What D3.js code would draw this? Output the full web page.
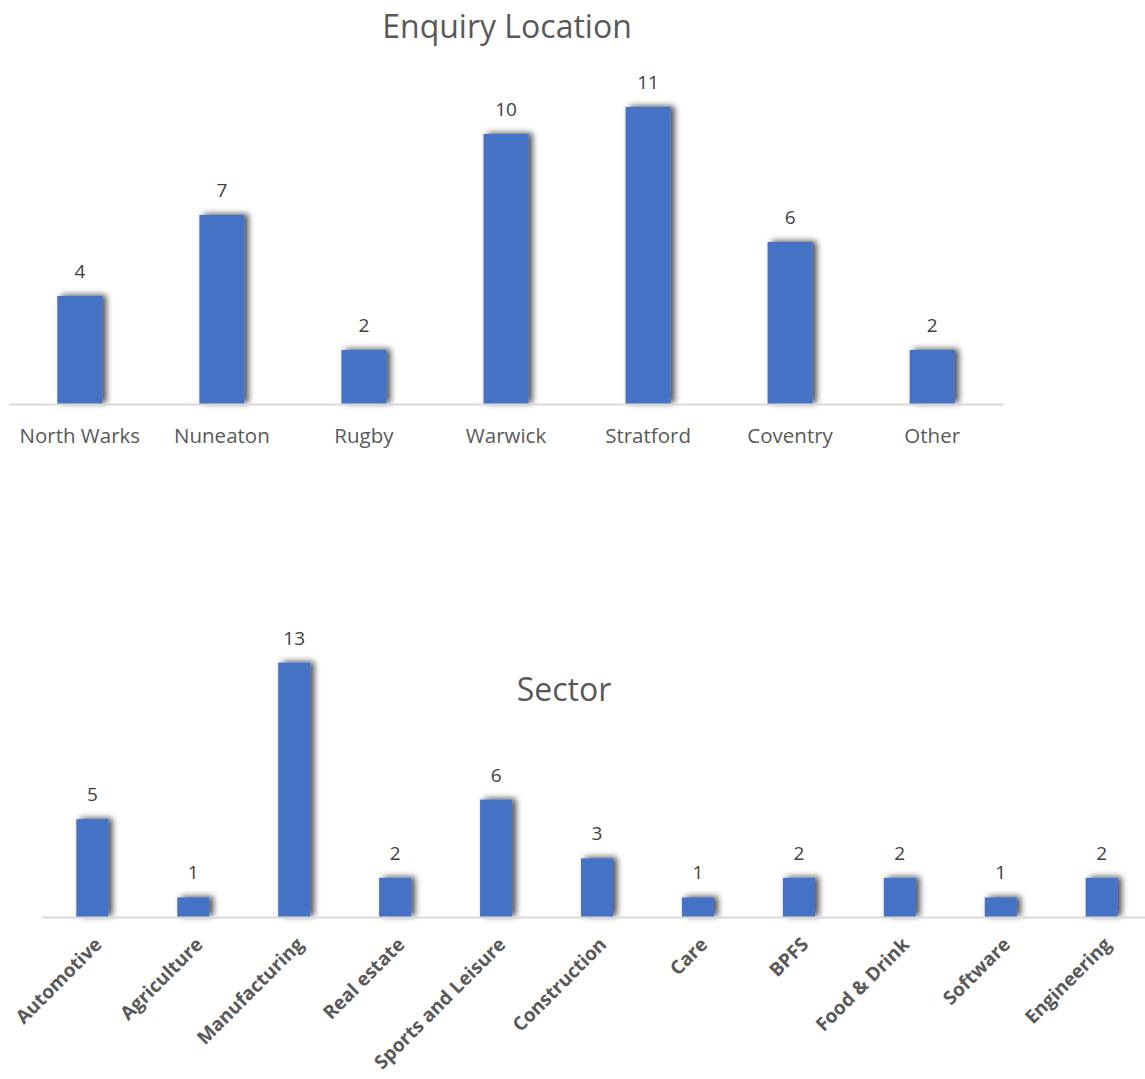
<!DOCTYPE html>
<html><head><meta charset="utf-8">
<script src="https://cdn.jsdelivr.net/npm/d3@7"></script>
<style>body{margin:0;background:#fff;} text{font-family:"Open Sans",sans-serif;}</style>
</head><body>
<svg id="c" width="1145" height="1079"></svg>
<script>
const locations = ["North Warks","Nuneaton","Rugby","Warwick","Stratford","Coventry","Other"];
const locationCounts = [4,7,2,10,11,6,2];
const sectors = ["Automotive","Agriculture","Manufacturing","Real estate","Sports and Leisure","Construction","Care","BPFS","Food & Drink","Software","Engineering"];
const sectorCounts = [5,1,13,2,6,3,1,2,2,1,2];

const svg = d3.select("#c");
const defs = svg.append("defs");
const f = defs.append("filter").attr("id","sh").attr("x","-50%").attr("y","-50%").attr("width","200%").attr("height","200%");
f.append("feDropShadow").attr("dx",4).attr("dy",-1).attr("stdDeviation",3).attr("flood-color","#000").attr("flood-opacity",0.7);

const BAR = "#4472C4";

// Chart 1
{
  const x = d3.scaleBand().domain(locations).range([9,1003]).paddingInner(0.683).paddingOuter(0.34);
  const y = d3.scaleLinear().domain([0,12]).range([404,80]);
  const g = svg.append("g");
  g.selectAll("rect").data(locations).join("rect")
    .attr("x", d=>x(d)).attr("width", x.bandwidth())
    .attr("y", (d,i)=>y(locationCounts[i])).attr("height",(d,i)=>y(0)-y(locationCounts[i]))
    .attr("fill",BAR).attr("filter","url(#sh)");
  const ax = g.append("g").attr("transform","translate(0,404)").call(d3.axisBottom(x).tickSize(0).tickPadding(24));
  ax.select(".domain").attr("stroke","#D9D9D9").attr("stroke-width",2);
  ax.selectAll("text").attr("font-size",20.5).attr("fill","#595959").attr("font-family","Open Sans");
  g.selectAll(".vl").data(locations).join("text").attr("class","vl")
    .attr("x", d=>x(d)+x.bandwidth()/2).attr("y",(d,i)=>y(locationCounts[i])-18)
    .attr("text-anchor","middle").attr("font-size",19).attr("fill","#404040")
    .text((d,i)=>locationCounts[i]);
  g.append("text").attr("x",507).attr("y",38).attr("text-anchor","middle")
    .attr("font-size",32).attr("fill","#595959").text("Enquiry Location");
}

// Chart 2
{
  const x = d3.scaleBand().domain(sectors).range([42,1152]).paddingInner(0.683).paddingOuter(0.34);
  const y = d3.scaleLinear().domain([0,14]).range([917,643]);
  const g = svg.append("g");
  g.selectAll("rect").data(sectors).join("rect")
    .attr("x", d=>x(d)).attr("width", x.bandwidth())
    .attr("y", (d,i)=>y(sectorCounts[i])).attr("height",(d,i)=>y(0)-y(sectorCounts[i]))
    .attr("fill",BAR).attr("filter","url(#sh)");
  g.append("text").attr("x",564).attr("y",701).attr("text-anchor","middle")
    .attr("font-size",32).attr("fill","#595959").text("Sector");
  const ax = g.append("g").attr("transform","translate(0,917)").call(d3.axisBottom(x).tickSize(0).tickPadding(0));
  ax.select(".domain").attr("stroke","#D9D9D9").attr("stroke-width",2);
  ax.selectAll("text").attr("font-size",19).attr("font-weight","bold").attr("fill","#595959")
    .attr("font-family","Open Sans")
    .attr("text-anchor","end").attr("dy","0.35em")
    .attr("transform","translate(6,24) rotate(-45)");
  g.selectAll(".vl").data(sectors).join("text").attr("class","vl")
    .attr("x", d=>x(d)+x.bandwidth()/2).attr("y",(d,i)=>y(sectorCounts[i])-18)
    .attr("text-anchor","middle").attr("font-size",19).attr("fill","#404040")
    .text((d,i)=>sectorCounts[i]);
}
</script>
</body></html>
